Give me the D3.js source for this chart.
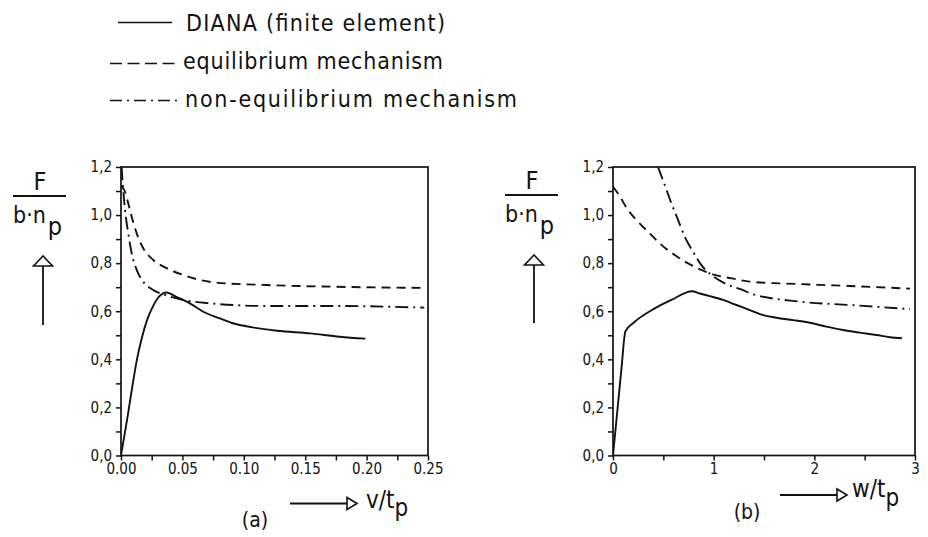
<!DOCTYPE html>
<html><head><meta charset="utf-8">
<script src="https://cdn.jsdelivr.net/npm/d3@7"></script>
<style>
html,body{margin:0;padding:0;background:#fff;}
svg{display:block;}
text{font-family:'DejaVu Sans Condensed','DejaVu Sans',sans-serif;font-stretch:condensed;fill:#111;}
</style></head><body>
<svg id="chart" width="928" height="537"></svg>
<script>
// ---------- data ----------
const legendLabels = ["DIANA (finite element)", "equilibrium mechanism", "non-equilibrium mechanism"];
const yTickValues = [0, 0.2, 0.4, 0.6, 0.8, 1.0, 1.2];
const yTickLabels = ["0,0", "0,2", "0,4", "0,6", "0,8", "1,0", "1,2"];
const xaTickValues = [0, 0.05, 0.10, 0.15, 0.20, 0.25];
const xaTickLabels = ["0.00", "0.05", "0.10", "0.15", "0.20", "0.25"];
const xbTickValues = [0, 1, 2, 3];
const xbTickLabels = ["0", "1", "2", "3"];

// panel (a): F/(b n_p) versus v/t_p
const aSolidX = [0, 0.005, 0.009, 0.013, 0.017, 0.021, 0.026, 0.030, 0.034, 0.037, 0.045, 0.056, 0.067, 0.080, 0.091, 0.107, 0.127, 0.154, 0.178, 0.199];
const aSolidY = [0, 0.15, 0.28, 0.40, 0.49, 0.56, 0.62, 0.655, 0.673, 0.678, 0.66, 0.633, 0.598, 0.571, 0.55, 0.533, 0.519, 0.508, 0.494, 0.486];
const aEquX = [0, 0.0033, 0.0059, 0.0087, 0.0128, 0.0181, 0.0263, 0.0372, 0.0507, 0.0643, 0.0779, 0.1185, 0.173, 0.245];
const aEquY = [1.12, 1.097, 1.049, 0.993, 0.924, 0.862, 0.813, 0.779, 0.751, 0.730, 0.719, 0.709, 0.702, 0.697];
const aNonX = [0.0005, 0.0014, 0.0033, 0.0059, 0.0087, 0.0128, 0.0181, 0.0263, 0.0358, 0.0507, 0.0724, 0.1185, 0.173, 0.247];
const aNonY = [1.2, 1.132, 1.021, 0.924, 0.841, 0.772, 0.723, 0.688, 0.668, 0.647, 0.633, 0.622, 0.622, 0.615];

// panel (b): F/(b n_p) versus w/t_p
const bSolidX = [0, 0.083, 0.123, 0.199, 0.415, 0.58, 0.785, 0.862, 0.961, 1.093, 1.226, 1.359, 1.491, 1.624, 1.789, 1.955, 2.121, 2.286, 2.452, 2.618, 2.75, 2.87];
const bSolidY = [0, 0.357, 0.516, 0.55, 0.612, 0.647, 0.683, 0.674, 0.663, 0.647, 0.626, 0.605, 0.584, 0.573, 0.563, 0.552, 0.536, 0.522, 0.511, 0.501, 0.492, 0.488];
const bEquX = [0, 0.05, 0.149, 0.249, 0.348, 0.481, 0.613, 0.746, 0.878, 1.011, 1.177, 1.359, 1.856, 2.353, 2.95];
const bEquY = [1.118, 1.09, 1.021, 0.972, 0.931, 0.876, 0.834, 0.799, 0.772, 0.751, 0.737, 0.723, 0.713, 0.705, 0.694];
const bNonX = [0.447, 0.514, 0.58, 0.646, 0.713, 0.795, 0.878, 0.978, 1.11, 1.309, 1.359, 1.856, 2.353, 2.95];
const bNonY = [1.2, 1.125, 1.049, 0.98, 0.91, 0.848, 0.792, 0.751, 0.716, 0.685, 0.675, 0.640, 0.626, 0.609];

// ---------- drawing ----------
const ink = "#111";
const dashEq = "9,6";
const dashNon = "13,5,2,5";
const svg = d3.select("#chart");

// legend
const legendRows = [
  {x1: 118, x2: 172, y: 22.5, dash: null, tx: 186, ty: 30.5, tl: 259},
  {x1: 110, x2: 177, y: 63.5, dash: "12,5.5", tx: 183, ty: 68.5, tl: 260},
  {x1: 110, x2: 177, y: 100.5, dash: "12,5,2,5", tx: 185, ty: 107, tl: 332}
];
legendRows.forEach((r, i) => {
  svg.append("line").attr("x1", r.x1).attr("x2", r.x2).attr("y1", r.y).attr("y2", r.y)
    .attr("stroke", ink).attr("stroke-width", 1.6).attr("stroke-dasharray", r.dash);
  svg.append("text").attr("x", r.tx).attr("y", r.ty).attr("font-size", 23)
    .attr("textLength", r.tl).attr("lengthAdjust", "spacing").text(legendLabels[i]);
});

function upArrow(g, x, yTop, yBot) {
  g.append("line").attr("x1", x).attr("x2", x).attr("y1", yTop + 10).attr("y2", yBot)
    .attr("stroke", ink).attr("stroke-width", 1.8);
  g.append("path").attr("d", `M${x},${yTop} L${x - 9.5},${yTop + 10} L${x + 9.5},${yTop + 10} Z`)
    .attr("fill", "none").attr("stroke", ink).attr("stroke-width", 1.6);
}
function rightArrow(g, x1, x2, y) {
  g.append("line").attr("x1", x1).attr("x2", x2 - 10).attr("y1", y).attr("y2", y)
    .attr("stroke", ink).attr("stroke-width", 1.8);
  g.append("path").attr("d", `M${x2},${y} L${x2 - 10},${y - 6} L${x2 - 10},${y + 6} Z`)
    .attr("fill", "none").attr("stroke", ink).attr("stroke-width", 1.6);
}
function yLabel(g, x0, yF) {
  g.append("text").attr("x", x0 + 27).attr("y", yF).attr("font-size", 25).attr("text-anchor", "middle").text("F");
  g.append("line").attr("x1", x0).attr("x2", x0 + 53).attr("y1", yF + 6).attr("y2", yF + 6)
    .attr("stroke", ink).attr("stroke-width", 1.8);
  const t = g.append("text").attr("x", x0).attr("y", yF + 33).attr("font-size", 23);
  t.append("tspan").text("b·n");
  t.append("tspan").attr("dx", 2).attr("dy", 12).attr("font-size", 25).text("p");
}

function panel(opts) {
  const g = svg.append("g");
  const x = d3.scaleLinear().domain(opts.xDomain).range([opts.left, opts.right]);
  const y = d3.scaleLinear().domain([0, 1.2]).range([opts.bottom, opts.top]);

  const ya = d3.axisLeft(y).tickValues(d3.range(0, 1.2001, 0.1)).tickSize(5).tickPadding(4)
    .tickFormat(d => { const k = yTickValues.findIndex(v => Math.abs(v - d) < 1e-6); return k >= 0 ? yTickLabels[k] : ""; });
  const yg = g.append("g").attr("transform", `translate(${opts.left},0)`).call(ya);
  yg.select(".domain").remove();
  yg.selectAll("line").attr("stroke", ink).attr("stroke-width", 1.5);
  yg.selectAll("text").attr("font-size", 15).attr("font-family", null).style("fill", ink);

  const xa = d3.axisBottom(x).tickValues(opts.xTicks).tickSize(5).tickPadding(3)
    .tickFormat(d => { const k = opts.xLabVals.findIndex(v => Math.abs(v - d) < 1e-9); return k >= 0 ? opts.xLabs[k] : ""; });
  const xg = g.append("g").attr("transform", `translate(0,${opts.bottom})`).call(xa);
  xg.select(".domain").remove();
  xg.selectAll("line").attr("stroke", ink).attr("stroke-width", 1.5);
  xg.selectAll("text").attr("font-size", 15).attr("font-family", null).style("fill", ink);

  g.append("rect").attr("x", opts.left).attr("y", opts.top)
    .attr("width", opts.right - opts.left).attr("height", opts.bottom - opts.top)
    .attr("fill", "none").attr("stroke", ink).attr("stroke-width", 1.7);

  const clipId = "clip" + opts.id;
  svg.append("clipPath").attr("id", clipId).append("rect")
    .attr("x", opts.left).attr("y", opts.top).attr("width", opts.right - opts.left).attr("height", opts.bottom - opts.top);

  const line = d3.line().x(d => x(d[0])).y(d => y(d[1])).curve(d3.curveMonotoneX);
  const series = [
    {xs: opts.solid[0], ys: opts.solid[1], dash: null},
    {xs: opts.equ[0], ys: opts.equ[1], dash: dashEq},
    {xs: opts.non[0], ys: opts.non[1], dash: dashNon}
  ];
  const cg = g.append("g").attr("clip-path", `url(#${clipId})`);
  series.forEach(s => {
    cg.append("path").datum(s.xs.map((v, i) => [v, s.ys[i]]))
      .attr("d", line).attr("fill", "none").attr("stroke", ink)
      .attr("stroke-width", 1.9).attr("stroke-dasharray", s.dash).attr("stroke-linejoin", "round");
  });
  return g;
}

panel({id: "a", xDomain: [0, 0.25], left: 121, right: 428, top: 167, bottom: 455.5,
  xTicks: d3.range(0, 0.2501, 0.025), xLabVals: xaTickValues, xLabs: xaTickLabels,
  solid: [aSolidX, aSolidY], equ: [aEquX, aEquY], non: [aNonX, aNonY]});
panel({id: "b", xDomain: [0, 3], left: 613, right: 915, top: 167, bottom: 455.5,
  xTicks: d3.range(0, 3.001, 0.5), xLabVals: xbTickValues, xLabs: xbTickLabels,
  solid: [bSolidX, bSolidY], equ: [bEquX, bEquY], non: [bNonX, bNonY]});

yLabel(svg, 13, 190);
upArrow(svg, 43, 256, 325);
yLabel(svg, 505, 189);
upArrow(svg, 534, 255, 323);

rightArrow(svg, 290, 357, 503.5);
const ta = svg.append("text").attr("x", 366).attr("y", 508).attr("font-size", 24);
ta.append("tspan").text("v/t");
ta.append("tspan").attr("dy", 8).attr("font-size", 24).text("p");
svg.append("text").attr("x", 255).attr("y", 527).attr("font-size", 21).attr("text-anchor", "middle").text("(a)");

rightArrow(svg, 780, 847, 495);
const tb = svg.append("text").attr("x", 852).attr("y", 497).attr("font-size", 24);
tb.append("tspan").text("w/t");
tb.append("tspan").attr("dy", 9).attr("font-size", 24).text("p");
svg.append("text").attr("x", 747).attr("y", 519).attr("font-size", 21).attr("text-anchor", "middle").text("(b)");
</script>
</body></html>
